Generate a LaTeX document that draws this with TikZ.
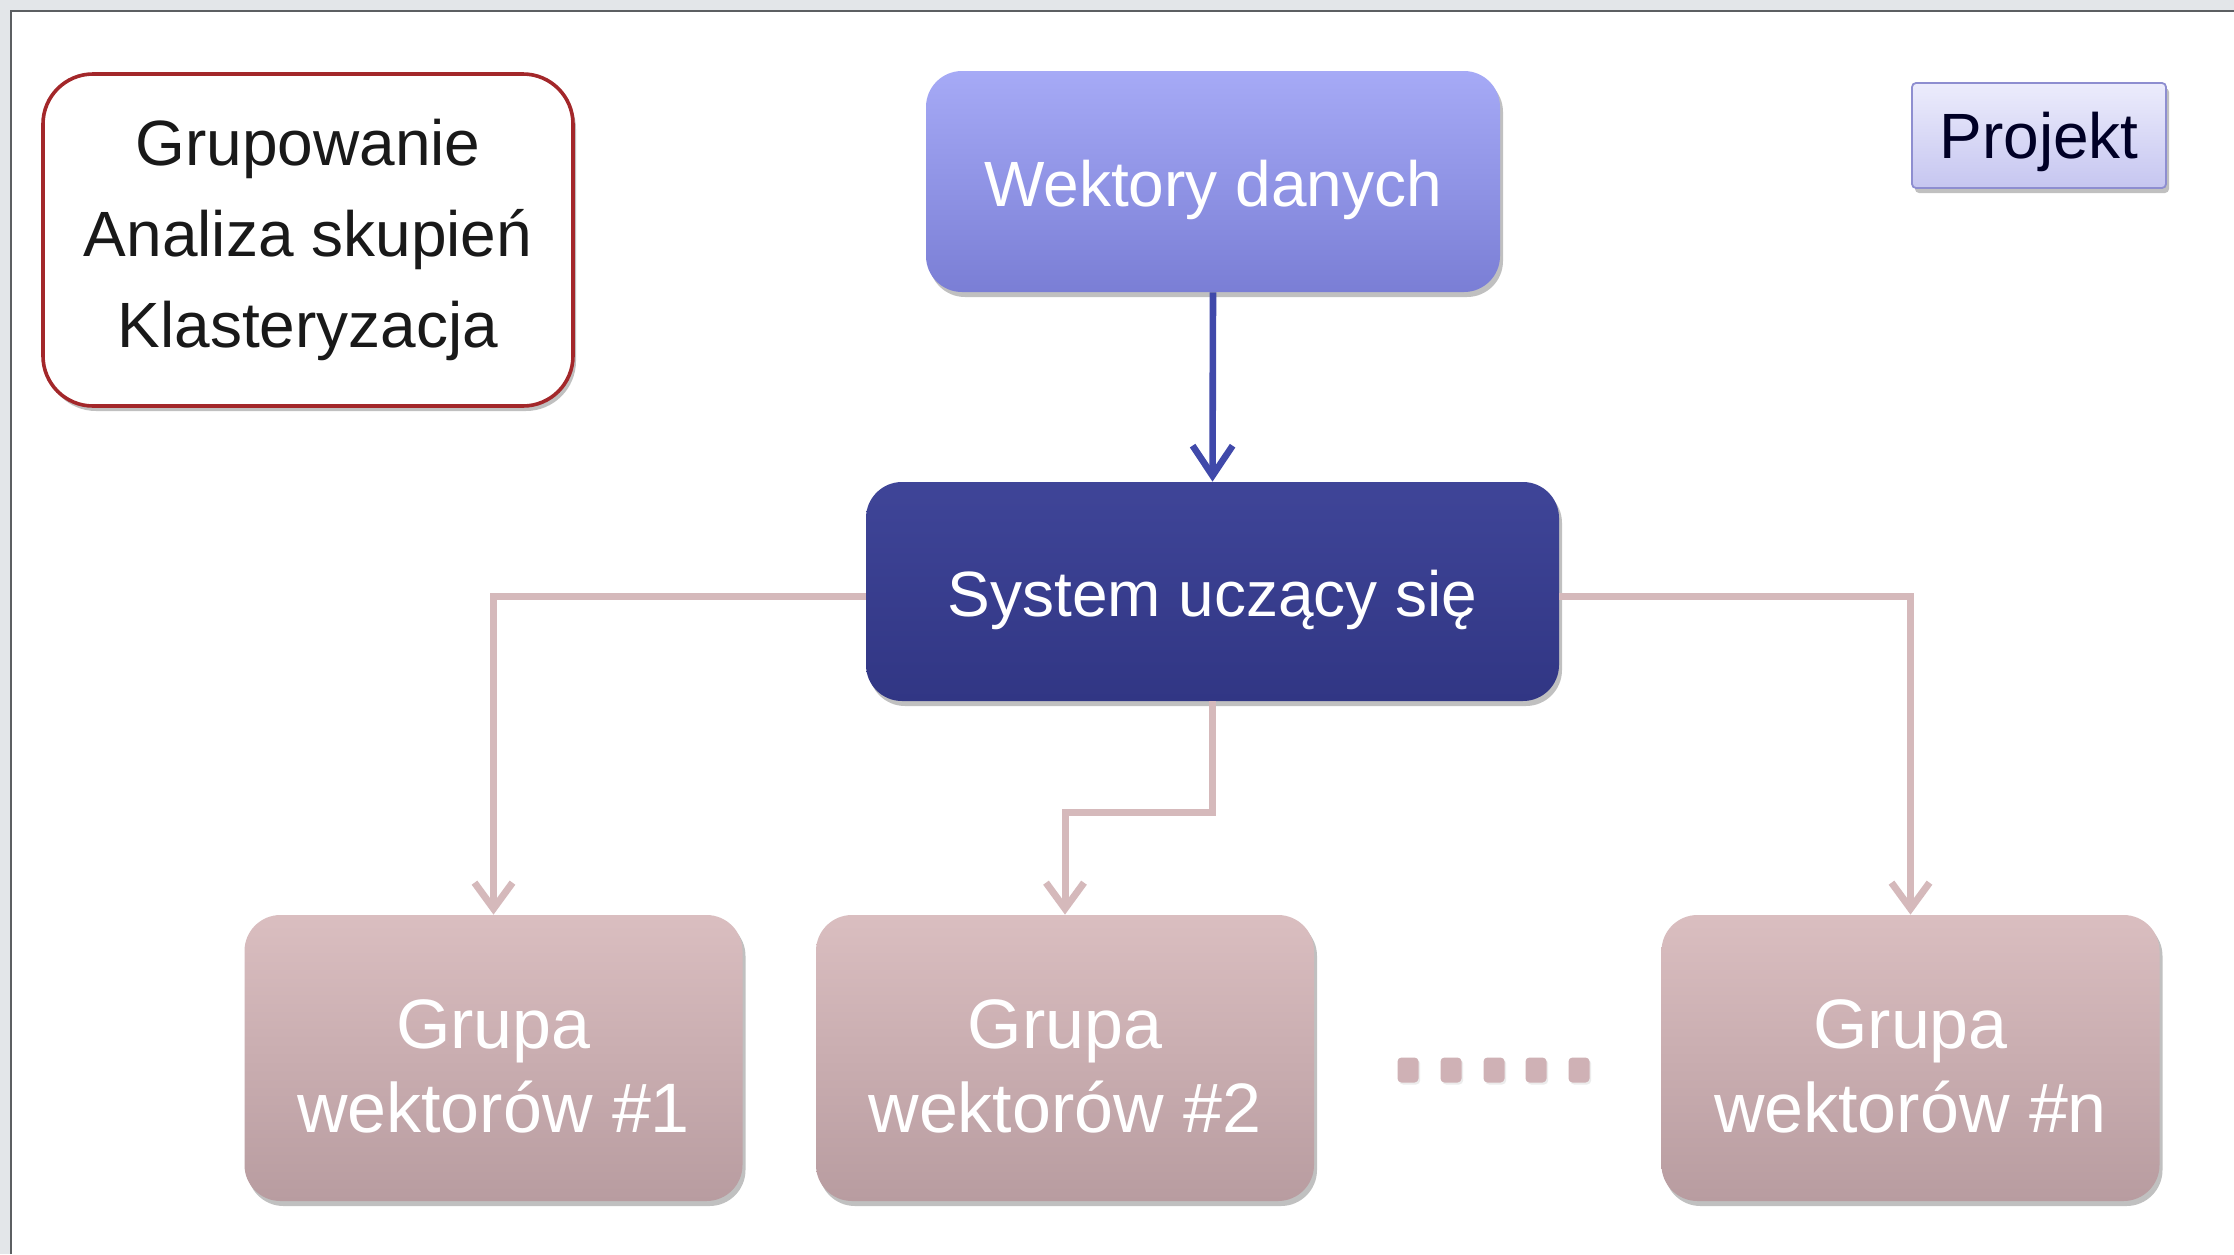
\documentclass[tikz,border=0pt]{standalone}
\usepackage{fontspec}
\setmainfont{Liberation Sans}
\usetikzlibrary{arrows.meta,shadows}
\definecolor{frameband}{HTML}{E3E6E9}
\definecolor{frameline}{HTML}{5C5F62}
\definecolor{redborder}{HTML}{A3272A}
\definecolor{inputtop}{HTML}{A6AAF6}
\definecolor{inputbot}{HTML}{7A7ED5}
\definecolor{systop}{HTML}{3F4598}
\definecolor{sysbot}{HTML}{313684}
\definecolor{projtop}{HTML}{ECECFC}
\definecolor{projbot}{HTML}{C6C6F0}
\definecolor{projline}{HTML}{8E8ED0}
\definecolor{grouptop}{HTML}{DABEC0}
\definecolor{groupbot}{HTML}{B89CA0}
\definecolor{linkpink}{HTML}{D5B9BB}
\definecolor{linkblue}{HTML}{4049AA}
\definecolor{dotpink}{HTML}{CFB1B5}
% taller first-line strut, which sets the lines of a box a little lower
\newcommand{\lowstrut}[1]{\rule{0pt}{#1}}
\begin{document}
\begin{tikzpicture}[x=0.5pt,y=-0.5pt,
  softshadow/.style={drop shadow={opacity=0.35,shadow xshift=1.5pt,shadow yshift=-2.5pt,fill=black!70}},
  notebox/.style={draw=redborder,line width=1.8pt,fill=white,rounded corners=25pt,
    minimum width=265pt,minimum height=166pt,align=center,inner sep=0pt,
    font=\fontsize{32}{45.5}\selectfont,text=black!90,softshadow},
  oneline/.style={text height=31.5pt,text depth=6.7pt},
  inputbox/.style={rounded corners=18pt,top color=inputtop,bottom color=inputbot,
    minimum width=287pt,minimum height=110.5pt,inner sep=0pt,text=white,
    font=\fontsize{32}{38}\selectfont,oneline,softshadow},
  sysbox/.style={rounded corners=18pt,top color=systop,bottom color=sysbot,
    minimum width=346.5pt,minimum height=109.5pt,inner sep=0pt,text=white,
    font=\fontsize{32}{38}\selectfont,oneline,softshadow},
  tagbox/.style={draw=projline,line width=0.9pt,rounded corners=2pt,top color=projtop,bottom color=projbot,
    minimum width=127pt,minimum height=52.5pt,inner sep=0pt,text=black!85!blue,
    font=\fontsize{32}{38}\selectfont,text height=29.5pt,text depth=6.7pt,softshadow},
  groupbox/.style={rounded corners=18pt,top color=grouptop,bottom color=groupbot,
    minimum width=249pt,minimum height=143pt,inner sep=0pt,align=center,text=white,
    font=\fontsize{35}{42}\selectfont,softshadow},
  bluelink/.style={draw=linkblue,line width=3.3pt,-{Straight Barb[length=15pt,width=20pt]}},
  pinklink/.style={draw=linkpink,line width=3.5pt,-{Straight Barb[length=13pt,width=19pt]}},
  dotbox/.style={fill=dotpink,rounded corners=2pt,minimum width=10.5pt,minimum height=12.5pt,inner sep=0pt,
    drop shadow={opacity=0.15,shadow xshift=0.8pt,shadow yshift=-1pt}}
]
\useasboundingbox (0,0) rectangle (2234,1254);
\fill[white] (0,0) rectangle (2234,1254);

% window frame along the top and left edges
\fill[frameband] (0,0) rectangle (2234,10);
\fill[frameband] (0,0) rectangle (10,1254);
\draw[frameline,line width=1.1pt] (11,1254) -- (11,11) -- (2234,11);

% boxes
\node[notebox] (note) at (308,240) {Grupowanie\\Analiza skupień\\Klasteryzacja};
\node[inputbox] (data) at (1213,181.5) {Wektory danych};
\node[sysbox] (sys) at (1212.5,591.5) {System uczący się};
\node[tagbox] (proj) at (2039,135.5) {Projekt};

\node[groupbox] (g1) at (493.5,1058) {\lowstrut{33pt}Grupa\\wektorów \#1};
\node[groupbox] (g2) at (1065,1058) {\lowstrut{33pt}Grupa\\wektorów \#2};
\node[groupbox] (gn) at (1910.5,1058) {\lowstrut{33pt}Grupa\\wektorów \#n};

% ellipsis between the second and the last group
\foreach \i/\xx in {1/1408,2/1451,3/1494,4/1536,5/1579}
  \node[dotbox] (dot\i) at (\xx,1070) {};

% connectors
\coordinate (branch) at (1212.5,596);
\draw[bluelink] (data.south) -- (sys.north);
\draw[pinklink] (sys.west |- branch) -| (g1.north);
\draw[pinklink] (sys.east |- branch) -| (gn.north);
\draw[pinklink] (sys.south) -- ++(0,111) -| (g2.north);
\end{tikzpicture}
\end{document}
